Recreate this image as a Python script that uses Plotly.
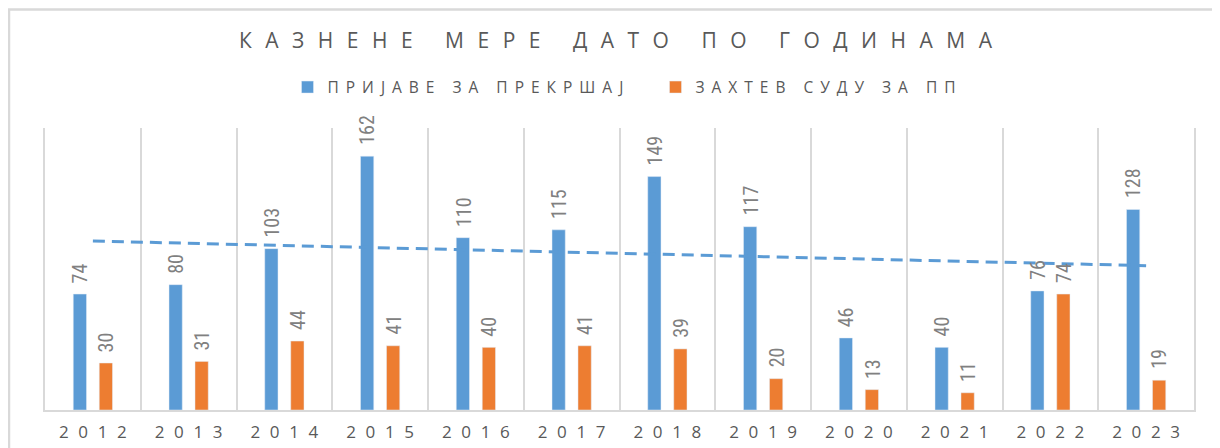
import numpy as np
import plotly.graph_objects as go

years = ["2012", "2013", "2014", "2015", "2016", "2017", "2018", "2019", "2020", "2021", "2022", "2023"]
prijave = [74, 80, 103, 162, 110, 115, 149, 117, 46, 40, 76, 128]
zahtev = [30, 31, 44, 41, 40, 41, 39, 20, 13, 11, 74, 19]
name_prijave = "ПРИЈАВЕ ЗА ПРЕКРШАЈ"
name_zahtev = "ЗАХТЕВ СУДУ ЗА ПП"
title_text = "КАЗНЕНЕ МЕРЕ ДАТО ПО ГОДИНАМА"

BLUE = "#5b9bd5"
ORANGE = "#ed7d31"
GRAY = "#595959"
LABEL_GRAY = "#808080"
GRID = "#d9d9d9"

# linear trendline of first series
xi = np.arange(1, len(years) + 1)
coef = np.polyfit(xi, prijave, 1)
trend = np.polyval(coef, xi)

label_font = dict(family="Liberation Sans Narrow, Roboto Condensed, Arial Narrow, sans-serif",
                  size=20, color=LABEL_GRAY)


def spaced(t, ls):
    # letter-spacing on all but the last glyph keeps the text visually centred
    return f'<span style="letter-spacing:{ls}px">{t[:-1]}</span>{t[-1]}'


fig = go.Figure()
fig.add_trace(go.Bar(x=years, y=prijave, name=spaced(name_prijave, 7), marker_color=BLUE,
                     hoverinfo="x+y"))
fig.add_trace(go.Bar(x=years, y=zahtev, name=spaced(name_zahtev, 7), marker_color=ORANGE,
                     hoverinfo="x+y"))
fig.add_trace(go.Scatter(x=years, y=trend, mode="lines", showlegend=False, hoverinfo="skip",
                         line=dict(color=BLUE, width=3, dash="12px,7px")))

# data labels (rotated), placed at each bar top through the data axes
# (category axis: annotation x is the category index)
for series, shift in ((prijave, -12.5), (zahtev, 13.5)):
    for i, v in enumerate(series):
        fig.add_annotation(x=i, y=v, xref="x", yref="y", text=str(v), showarrow=False,
                           textangle=-90, xanchor="center", yanchor="bottom",
                           xshift=shift, yshift=9, font=label_font)

# page body adds ~8px offset; layout below is in figure pixels
PL, PT, PR, PB = 37, 120, 1186, 402
PW, PH = PR - PL, PB - PT

fig.update_layout(
    width=1220, height=448,
    margin=dict(l=PL, r=1220 - PR, t=PT, b=448 - PB, autoexpand=False),
    paper_bgcolor="white", plot_bgcolor="white",
    barmode="group", bargap=0.457, bargroupgap=0.49,
    title=dict(text=spaced(title_text, 13.5), x=0.5 - 4 / PW, xref="paper", xanchor="center",
               y=1 - 32.5 / 448, yref="container", yanchor="middle",
               font=dict(family="Open Sans", size=21, color=GRAY)),
    legend=dict(orientation="h", x=0.5 + 36 / PW, xanchor="center", y=(PB - 79.5) / PH,
                yanchor="middle",
                font=dict(family="Open Sans", size=15.5, color=GRAY), itemwidth=30,
                entrywidth=323, entrywidthmode="pixels", traceorder="normal"),
    showlegend=True,
)
fig.update_xaxes(type="category", tickmode="array", tickvals=years,
                 ticktext=[spaced(y, 9.6) for y in years], automargin=False,
                 range=[-0.5, len(years) - 0.5],
                 showgrid=True, gridcolor=GRID, gridwidth=2, tickson="boundaries",
                 showline=True, linecolor=GRID, linewidth=2, ticks="",
                 ticklabelstandoff=6,
                 tickfont=dict(family="Open Sans", size=17, color=GRAY))
fig.update_yaxes(range=[0, 180], visible=True, showticklabels=False, showgrid=False,
                 zeroline=False, showline=True, mirror=True, linecolor=GRID, linewidth=2,
                 ticks="", automargin=False)

# outer chart border (light gray), extends beyond the right/bottom edge
fig.add_shape(type="rect", xref="paper", yref="paper",
              x0=(1 - PL) / PW, x1=1.2, y0=-0.5, y1=(PB - 1.5) / PH,
              line=dict(color=GRID, width=2.5), layer="below")

fig.write_html("out.html")
